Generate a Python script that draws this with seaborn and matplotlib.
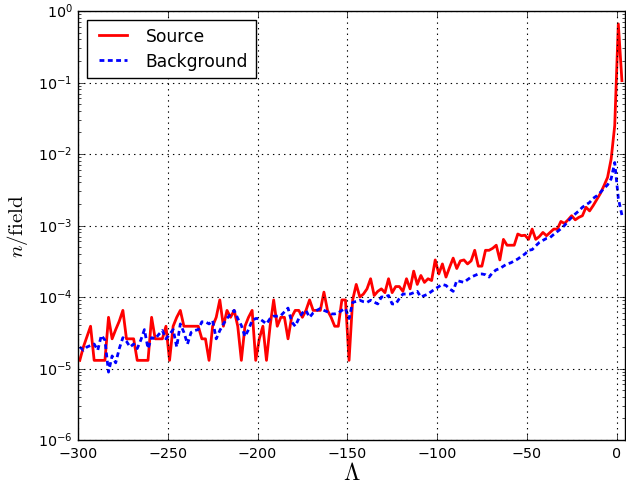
import numpy as np
import pandas as pd
import matplotlib
matplotlib.use("Agg")
import matplotlib.pyplot as plt
import seaborn as sns

# bin centres of Lambda
lam = np.arange(-299, 4, 2)

source = [
    1.3e-5, 2.0e-5, 2.8e-5, 3.9e-5, 1.3e-5, 1.3e-5, 1.3e-5, 1.3e-5, 5.2e-5, 2.6e-5,   # -299..-281
    3.5e-5, 4.6e-5, 6.5e-5, 2.6e-5, 2.6e-5, 2.6e-5, 1.3e-5, 1.3e-5, 1.3e-5, 1.3e-5,   # -279..-261
    5.2e-5, 2.6e-5, 2.6e-5, 2.6e-5, 3.9e-5, 1.3e-5, 3.9e-5, 5.2e-5, 6.5e-5, 3.9e-5,   # -259..-241
    3.9e-5, 3.9e-5, 3.9e-5, 3.9e-5, 2.6e-5, 2.6e-5, 1.3e-5, 3.9e-5, 5.2e-5, 9.1e-5,   # -239..-221
    3.9e-5, 6.5e-5, 5.2e-5, 6.5e-5, 3.9e-5, 1.3e-5, 3.9e-5, 5.2e-5, 6.5e-5, 1.3e-5,   # -219..-201
    2.6e-5, 3.9e-5, 1.3e-5, 3.9e-5, 9.1e-5, 3.9e-5, 5.2e-5, 5.2e-5, 2.6e-5, 5.2e-5,   # -199..-181
    6.5e-5, 6.5e-5, 5.2e-5, 6.5e-5, 9.1e-5, 6.5e-5, 6.5e-5, 6.5e-5, 1.17e-4, 6.5e-5,  # -179..-161
    5.2e-5, 3.9e-5, 3.9e-5, 9.1e-5, 9.1e-5, 1.3e-5, 9.1e-5, 1.5e-4, 1.0e-4, 1.1e-4,   # -159..-141
    1.3e-4, 1.8e-4, 1.05e-4, 1.2e-4, 1.3e-4, 1.15e-4, 1.8e-4, 1.15e-4, 1.4e-4, 1.4e-4,  # -139..-121
    1.2e-4, 1.8e-4, 1.3e-4, 2.3e-4, 1.5e-4, 2.0e-4, 1.6e-4, 1.8e-4, 1.7e-4, 3.3e-4,   # -119..-101
    2.1e-4, 2.9e-4, 1.9e-4, 2.6e-4, 3.5e-4, 2.5e-4, 3.2e-4, 3.3e-4, 2.9e-4, 3.2e-4,   # -99..-81
    4.5e-4, 2.7e-4, 2.7e-4, 4.5e-4, 4.5e-4, 4.8e-4, 5.3e-4, 3.3e-4, 6.4e-4, 5.3e-4,   # -79..-61
    5.3e-4, 5.3e-4, 7.6e-4, 7.2e-4, 7.3e-4, 6.4e-4, 8.9e-4, 6.4e-4, 7.0e-4, 8.0e-4,   # -59..-41
    7.2e-4, 8.0e-4, 8.9e-4, 8.9e-4, 1.14e-3, 1.07e-3, 1.2e-3, 1.37e-3, 1.2e-3, 1.3e-3,  # -39..-21
    1.37e-3, 1.8e-3, 1.6e-3, 1.9e-3, 2.3e-3, 2.8e-3, 3.6e-3, 4.7e-3, 8.5e-3, 2.5e-2,  # -19..-1
    0.66, 0.106,                                                                      # 1..3
]

background = [
    2.0e-5, 1.8e-5, 2.0e-5, 2.1e-5, 2.2e-5, 1.8e-5, 2.9e-5, 2.5e-5, 8.9e-6, 1.5e-5,   # -299..-281
    1.2e-5, 1.9e-5, 2.7e-5, 2.4e-5, 2.0e-5, 2.2e-5, 1.9e-5, 2.5e-5, 3.5e-5, 1.9e-5,   # -279..-261
    2.7e-5, 2.6e-5, 3.0e-5, 3.4e-5, 2.6e-5, 3.0e-5, 3.5e-5, 2.0e-5, 4.2e-5, 3.2e-5,   # -259..-241
    2.2e-5, 3.2e-5, 3.4e-5, 3.5e-5, 4.5e-5, 4.5e-5, 4.2e-5, 4.7e-5, 2.6e-5, 3.4e-5,   # -239..-221
    4.2e-5, 5.0e-5, 5.8e-5, 6.5e-5, 5.0e-5, 4.0e-5, 2.8e-5, 3.5e-5, 4.7e-5, 5.0e-5,   # -219..-201
    5.0e-5, 4.6e-5, 4.2e-5, 5.0e-5, 5.4e-5, 5.4e-5, 5.5e-5, 6.2e-5, 7.0e-5, 4.5e-5,   # -199..-181
    3.9e-5, 5.0e-5, 6.0e-5, 6.5e-5, 5.2e-5, 6.0e-5, 6.5e-5, 6.9e-5, 6.5e-5, 6.2e-5,   # -179..-161
    5.8e-5, 5.8e-5, 6.0e-5, 6.5e-5, 6.9e-5, 5.0e-5, 8.4e-5, 8.7e-5, 9.0e-5, 8.6e-5,   # -159..-141
    8.4e-5, 9.0e-5, 8.5e-5, 8.0e-5, 1.0e-4, 1.0e-4, 1.05e-4, 8.0e-5, 8.0e-5, 9.5e-5,  # -139..-121
    1.1e-4, 1.1e-4, 1.1e-4, 1.15e-4, 1.2e-4, 1.0e-4, 1.05e-4, 1.1e-4, 1.2e-4, 1.3e-4,  # -119..-101
    1.4e-4, 1.5e-4, 1.45e-4, 1.3e-4, 1.2e-4, 1.7e-4, 1.65e-4, 1.6e-4, 1.75e-4, 1.9e-4,  # -99..-81
    2.0e-4, 2.1e-4, 2.1e-4, 2.05e-4, 1.9e-4, 2.2e-4, 2.4e-4, 2.5e-4, 2.7e-4, 2.9e-4,  # -79..-61
    3.0e-4, 3.2e-4, 3.4e-4, 3.7e-4, 4.0e-4, 4.5e-4, 4.6e-4, 5.2e-4, 5.8e-4, 6.2e-4,   # -59..-41
    6.6e-4, 6.8e-4, 7.5e-4, 8.2e-4, 9.0e-4, 1.0e-3, 1.15e-3, 1.3e-3, 1.45e-3, 1.6e-3,  # -39..-21
    1.8e-3, 1.95e-3, 2.1e-3, 2.4e-3, 2.6e-3, 2.9e-3, 3.3e-3, 3.7e-3, 4.5e-3, 7.6e-3,  # -19..-1
    2.4e-3, 1.4e-3,                                                                   # 1..3
]

xticks = [-300, -250, -200, -150, -100, -50, 0]
labels = ["Source", "Background"]

df = pd.DataFrame({"lam": lam, "Source": source, "Background": background})

plt.style.use("classic")
plt.rcParams["mathtext.fontset"] = "cm"
plt.rcParams["font.family"] = ["DejaVu Sans"]

fig = plt.figure(figsize=(6.26, 4.85), dpi=100, facecolor="white")
ax = fig.add_axes([78 / 626, 1 - 441 / 485, 547.5 / 626, 429 / 485])
ax.set_facecolor("white")

sns.lineplot(data=df, x="lam", y="Source", ax=ax, color="red", lw=2,
             label=labels[0], estimator=None)
sns.lineplot(data=df, x="lam", y="Background", ax=ax, color="blue", lw=2,
             linestyle="--", label=labels[1], estimator=None)

ax.set_yscale("log")
ax.set_ylim(1e-6, 1)
ax.set_xlim(-300, 5)
ax.set_xticks(xticks)
ax.grid(True, which="major", color="black", linestyle=":", linewidth=0.8)
ax.tick_params(labelsize=10.3)
ax.set_xlabel(r"$\Lambda$", fontsize=17, labelpad=0)
ax.set_ylabel(r"$n/\mathrm{field}$", fontsize=15, labelpad=6)
ax.xaxis.get_offset_text().set_visible(False)
ax.yaxis.get_offset_text().set_visible(False)

for ln in ax.get_lines():
    if ln.get_color() == "blue":
        ln.set_dashes((3.5, 2.5))

leg = ax.legend(loc="upper left", fontsize=12.3, fancybox=False, frameon=True,
                handlelength=2.2, borderpad=0.45, labelspacing=0.4)
leg.get_frame().set_edgecolor("black")

fig.savefig("out.png", dpi=100, facecolor="white")
